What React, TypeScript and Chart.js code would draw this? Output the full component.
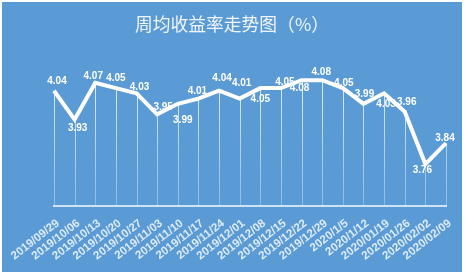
import React, { useEffect, useRef } from 'react';
import { Chart, registerables } from 'chart.js';
Chart.register(...registerables);

const categories = [
  '2019/09/29', '2019/10/06', '2019/10/13', '2019/10/20', '2019/10/27',
  '2019/11/03', '2019/11/10', '2019/11/17', '2019/11/24', '2019/12/01',
  '2019/12/08', '2019/12/15', '2019/12/22', '2019/12/29', '2020/1/5',
  '2020/1/12', '2020/01/19', '2020/01/26', '2020/02/02', '2020/02/09',
];
const values = [
  4.04, 3.93, 4.07, 4.05, 4.03, 3.95, 3.99, 4.01, 4.04, 4.01,
  4.05, 4.05, 4.08, 4.08, 4.05, 3.99, 4.03, 3.96, 3.76, 3.84,
];
const titleText = '周均收益率走势图（%）';

// label placement offsets (style only)
const labelDx = [3, 3, -2, 0, 3, 6, 5, -1, 3, 2, 0, 4, -2, -1, 1, 1, 2, 2, -3, -1];
const labelDy = [-9, 9, -7, -10, -6, -7, 16, -7, -12, -15, 11, -6, 8, -8, -5, -10, 11, -9, 6, -5];

export default function App() {
  const ref = useRef<HTMLCanvasElement>(null);
  useEffect(() => {
    document.body.style.margin = '0';
    const canvas = ref.current;
    if (!canvas) return;

    const bgPlugin = {
      id: 'bg',
      beforeDraw(chart: any) {
        const c = chart.ctx;
        c.save();
        c.fillStyle = '#ffffff';
        c.fillRect(0, 0, chart.width, chart.height);
        c.fillStyle = '#5B9BD5';
        c.fillRect(2, 2, chart.width - 5, chart.height - 6);
        const fam = '"Noto Sans CJK SC", "Noto Sans CJK JP", sans-serif';
        c.font = `19px ${fam}`;
        let m = c.measureText(titleText);
        const ink0 = m.actualBoundingBoxLeft + m.actualBoundingBoxRight;
        const size = 19 * 182 / (ink0 || 182);
        c.font = `${size}px ${fam}`;
        m = c.measureText(titleText);
        c.fillStyle = 'rgba(255,255,255,0.9)';
        c.textAlign = 'left';
        c.textBaseline = 'alphabetic';
        c.fillText(titleText, 135 + m.actualBoundingBoxLeft, 15 + m.actualBoundingBoxAscent);
        c.restore();
      },
    };
    const dropPlugin = {
      id: 'drop',
      beforeDatasetsDraw(chart: any) {
        const meta = chart.getDatasetMeta(0);
        const { top, bottom } = chart.chartArea;
        const ctx = chart.ctx;
        ctx.save();
        ctx.lineWidth = 1;
        const g = ctx.createLinearGradient(0, top, 0, bottom);
        g.addColorStop(0, 'rgba(255,255,255,0.85)');
        g.addColorStop(1, 'rgba(255,255,255,0.3)');
        ctx.strokeStyle = g;
        meta.data.forEach((p: any) => {
          const x = Math.round(p.x) + 0.5;
          ctx.beginPath();
          ctx.moveTo(x, p.y);
          ctx.lineTo(x, bottom);
          ctx.stroke();
        });
        ctx.restore();
      },
    };
    const labelPlugin = {
      id: 'vlabels',
      afterDatasetsDraw(chart: any) {
        const meta = chart.getDatasetMeta(0);
        const ctx = chart.ctx;
        ctx.save();
        ctx.font = 'bold 10px "Liberation Sans", Arial, sans-serif';
        ctx.fillStyle = '#ffffff';
        ctx.textAlign = 'center';
        ctx.textBaseline = 'middle';
        meta.data.forEach((p: any, i: number) => {
          ctx.fillText(values[i].toFixed(2), p.x + labelDx[i], p.y + labelDy[i]);
        });
        ctx.restore();
      },
    };
    const xLabelPlugin = {
      id: 'xlabels',
      afterDraw(chart: any) {
        const xs = chart.scales.x;
        const axisY = chart.chartArea.bottom;
        const ctx = chart.ctx;
        const ang = (38 * Math.PI) / 180;
        ctx.save();
        ctx.font = 'bold 11.5px "Liberation Sans", Arial, sans-serif';
        ctx.fillStyle = 'rgba(232,241,250,0.92)';
        ctx.textAlign = 'right';
        ctx.textBaseline = 'middle';
        categories.forEach((lab, i) => {
          const x = xs.getPixelForValue(i);
          ctx.save();
          ctx.translate(x + 4, axisY + 16);
          ctx.rotate(-ang);
          ctx.fillText(lab, 0, 0);
          ctx.restore();
        });
        ctx.restore();
      },
    };

    const chart = new Chart(canvas, {
      type: 'line',
      data: {
        labels: categories,
        datasets: [
          {
            data: values,
            borderColor: '#ffffff',
            borderWidth: 4,
            pointRadius: 0,
            tension: 0,
            borderJoinStyle: 'miter',
            fill: false,
          },
        ],
      },
      options: {
        animation: false,
        responsive: false,
        layout: { padding: { left: 54, right: 19, top: 75, bottom: 4 } },
        plugins: {
          legend: { display: false },
          tooltip: { enabled: false },
          title: { display: false },
        },
        scales: {
          x: {
            offset: false,
            grid: { display: false },
            border: { display: true, color: 'rgba(220,235,248,0.9)', width: 2 },
            ticks: { display: false, autoSkip: false },
            afterFit(scale: any) {
              scale.height = 66;
              scale.paddingLeft = 0;
              scale.paddingRight = 0;
            },
          },
          y: {
            display: false,
            min: 3.6,
            max: 4.1,
          },
        },
      },
      plugins: [bgPlugin, dropPlugin, labelPlugin, xLabelPlugin],
    });
    return () => chart.destroy();
  }, []);

  return <canvas ref={ref} width={465} height={276} style={{ display: 'block' }} />;
}
